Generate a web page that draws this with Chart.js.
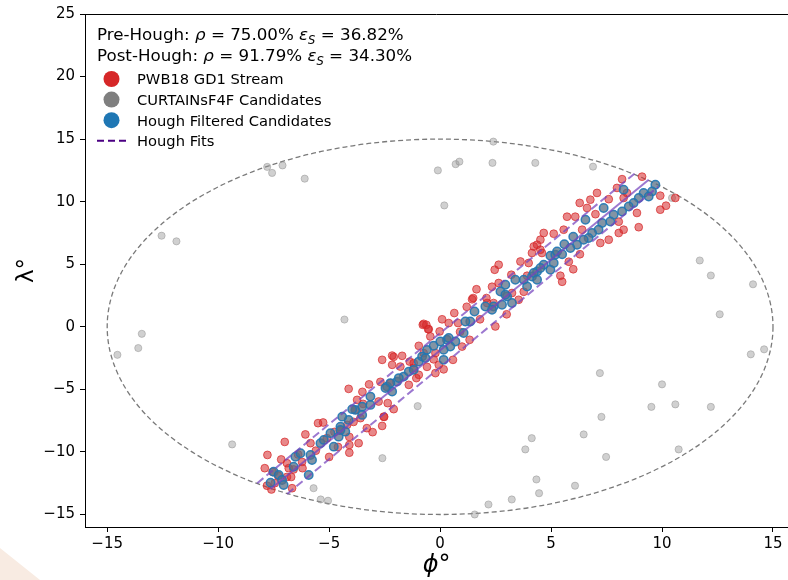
<!DOCTYPE html>
<html>
<head>
<meta charset="utf-8">
<script src="https://cdn.jsdelivr.net/npm/chart.js@4/dist/chart.umd.min.js"></script>
<style>
html, body { margin: 0; padding: 0; background: #fff; overflow: hidden; }
#wrap { position: relative; width: 788px; height: 580px; overflow: hidden; }
#corner { position: absolute; left: 0; top: 0; width: 788px; height: 580px; background: #f8ebe2;
  clip-path: polygon(0 548px, 40px 580px, 0 580px); }
canvas { position: absolute; left: 0; top: 0; }
</style>
</head>
<body>
<div id="wrap"><div id="corner"></div><canvas id="chart" width="794" height="580"></canvas></div>
<script>
const xTicks = [-15, -10, -5, 0, 5, 10, 15];
const yTicks = [-15, -10, -5, 0, 5, 10, 15, 20, 25];

const seriesNames = ["PWB18 GD1 Stream", "CURTAINsF4F Candidates", "Hough Filtered Candidates", "Hough Fits"];
const preHoughPurity = "75.00%", preHoughEff = "36.82%";
const postHoughPurity = "91.79%", postHoughEff = "34.30%";

// search region (degrees)
const regionRadius = 15;

// hough fit lines: two end points each
const fitUpperX = [-8.24, 8.76], fitUpperY = [-12.5, 12.24];
const fitMidX = [-7.64, 9.4], fitMidY = [-12.96, 11.76];
const fitLowerX = [-6.89, 9.83], fitLowerY = [-13.36, 11.2];

const candidates = [
  [-7.79, 12.78], [-7.57, 12.3], [-7.1, 12.9], [-6.1, 11.84], [-12.55, 7.28], [-11.88, 6.83],
  [-4.31, 0.58], [-13.44, -0.56], [-13.6, -1.7], [-14.54, -2.24],
  [-0.1, 12.5], [0.7, 13.0], [0.87, 13.2], [0.19, 9.7], [2.4, 14.8], [2.36, 13.1], [4.29, 13.1],
  [6.89, 12.8], [10.45, 10.3],
  [11.7, 5.3], [12.2, 4.1], [12.6, 1.0], [14.1, 3.4], [14.0, -2.2], [14.6, -1.8], [7.2, -3.7], [10.0, -4.6],
  [-9.37, -9.4], [-5.7, -12.9], [-5.38, -13.8], [-5.05, -13.9], [-2.6, -10.5], [-1.01, -6.34],
  [9.52, -6.4], [10.6, -6.2], [12.2, -6.4], [7.27, -7.2], [6.47, -8.6], [4.13, -8.9], [3.84, -9.8],
  [7.48, -10.4], [10.75, -9.8], [4.34, -12.2], [6.08, -12.7], [4.46, -13.3], [3.23, -13.8], [2.18, -14.2], [1.56, -15.0]
];

const gd1Stream = [
  [-7.78, -10.24], [-7.9, -11.3], [-7.8, -12.7], [-7.6, -13.0], [-6.67, -12.9], [-7.0, -9.2], [-6.07, -8.6], [-5.5, -7.7],
  [-5.27, -7.65], [-5.84, -9.3], [-4.09, -10.06], [-3.67, -9.3], [-3.04, -8.42], [-2.61, -7.92], [-2.09, -6.58], [-4.09, -9.44],
  [-6.6, -11.4], [-6.9, -12.0], [-6.2, -11.3], [-4.09, -8.8], [-6.82, -11.3], [-7.16, -10.6], [-6.22, -10.8], [-4.76, -8.4],
  [-4.19, -7.84], [-3.59, -7.3], [-3.47, -6.16], [-2.52, -7.2], [-2.36, -6.1], [-6.71, -12.0], [-7.3, -11.9], [-7.45, -12.5],
  [-6.4, -10.2], [-5.6, -9.9], [-5.1, -8.9], [-4.5, -8.3], [-5.0, -10.4], [-4.6, -9.6], [-3.3, -8.1], [-3.9, -7.6],
  [-6.9, -10.9], [-7.55, -11.6],
  [-0.78, 0.16], [-0.62, 0.16], [-0.51, -0.19], [0.09, 0.6], [-0.96, -1.52], [-0.44, -0.77], [-2.61, -2.64], [-2.16, -2.3],
  [-1.71, -2.32], [-2.16, -3.04], [-1.79, -3.18], [-1.37, -2.78], [-1.19, -3.3], [-0.74, -2.1], [-0.21, -2.1], [-0.06, -3.04],
  [-0.21, -3.7], [-4.12, -4.96], [-2.69, -4.4], [-2.24, -4.5], [-1.41, -4.64], [-0.96, -3.84], [-3.74, -5.84], [-2.77, -5.97],
  [-2.54, -7.18], [-3.82, -6.64],
  [2.64, 4.96], [2.46, 4.56], [1.64, 3.0], [2.34, 3.2], [2.64, 3.5], [0.64, 1.1], [-0.74, 0.24], [-0.54, -0.19], [0.39, 0.3],
  [0.81, 0.3], [1.49, 2.3], [2.12, 1.9], [2.49, 0.03], [-0.02, -0.37], [-2.09, -2.4], [-1.19, -2.9], [-0.59, -3.2],
  [-0.29, -2.6], [0.16, -3.4], [0.58, -2.64], [0.99, -1.58], [1.33, -1.04], [-1.07, -4.1], [3.92, 4.08], [3.77, 2.8], [3.24, 2.7],
  [4.37, 6.56], [4.52, 6.16], [4.14, 5.9], [3.99, 5.1], [3.62, 5.22], [3.21, 4.16], [1.44, 2.2], [2.09, 2.3], [2.41, 1.9],
  [3.54, 2.16], [5.42, 4.08],
  [8.2, 11.8], [9.1, 12.0], [7.6, 10.2], [7.07, 10.7], [6.77, 10.16], [7.97, 11.1], [8.42, 10.7], [9.92, 10.48], [9.92, 9.36],
  [10.18, 9.68], [10.6, 10.3], [6.62, 9.5], [6.09, 8.8], [5.72, 8.8], [6.4, 7.76], [5.57, 7.76], [5.12, 7.44], [4.67, 7.5],
  [4.52, 6.96], [4.22, 6.42], [4.59, 5.9], [7.22, 6.7], [7.6, 6.96], [8.05, 7.5], [8.27, 7.76], [8.87, 9.1], [6.29, 9.9],
  [7.0, 9.0], [8.05, 8.4], [8.95, 7.96], [8.27, 10.3],
  [1.8, 0.6], [1.2, 1.6], [0.9, -0.4], [5.8, 5.2], [6.0, 4.6], [5.5, 3.6], [6.3, 5.8], [3.0, 1.0], [-3.2, -4.6], [-3.5, -5.2]
];

const houghFiltered = [
  [-7.64, -12.46], [-7.5, -11.58], [-7.27, -11.84], [-7.12, -12.24], [-7.05, -12.64], [-6.6, -11.18], [-6.52, -10.38],
  [-6.29, -10.1], [-5.92, -11.84], [-5.84, -10.24], [-5.77, -10.64], [-5.39, -9.3], [-5.24, -9.04], [-4.94, -8.5],
  [-4.79, -9.58], [-4.57, -8.78], [-4.49, -7.98], [-4.27, -8.38], [-4.12, -7.44], [-3.82, -6.64], [-3.51, -7.04],
  [-3.14, -6.24], [-4.49, -8.24],
  [-4.41, -7.18], [-3.96, -6.58], [-3.51, -6.38], [-3.14, -5.58], [-2.39, -4.78], [-2.16, -5.18], [-1.94, -4.38],
  [-1.64, -3.98], [-1.41, -3.58], [-0.96, -2.78], [-0.81, -2.38], [-0.59, -1.84], [-0.29, -1.52], [0.16, -2.64], [0.31, -1.04],
  [2.94, 3.36], [2.72, 2.82], [3.02, 2.42], [3.24, 1.9], [2.41, 1.62], [1.55, 1.22], [1.36, 0.42], [1.06, -0.5], [0.69, -1.18],
  [0.39, -0.9], [0.46, -1.58], [0.01, -1.18], [0.16, -1.84], [-0.66, -2.5], [-1.19, -3.44], [-1.86, -4.1], [-2.24, -4.5],
  [-2.46, -4.9], [3.92, 3.22], [3.77, 3.76], [4.14, 4.02], [4.37, 4.42], [4.67, 4.96], [4.97, 4.56], [5.12, 5.1],
  [4.97, 5.68], [5.19, 5.76], [4.52, 4.7], [4.22, 4.3], [4.37, 3.76], [3.39, 3.76], [2.94, 2.56], [2.79, 1.76], [2.04, 1.62],
  [2.34, 1.36], [1.14, 0.42],
  [9.7, 11.36], [9.55, 10.82], [9.17, 10.7], [9.4, 10.42], [8.95, 10.3], [8.72, 9.9], [8.5, 9.62], [8.2, 9.22], [7.82, 8.96],
  [7.67, 8.42], [7.3, 8.3], [7.14, 7.76], [6.85, 7.5], [6.69, 7.1], [6.47, 6.96], [6.17, 6.56], [5.87, 6.3], [5.27, 6.02],
  [7.37, 9.5], [6.55, 8.56], [8.27, 10.96], [5.6, 6.6], [6.0, 7.2], [5.5, 5.8]
];

const FONT = "DejaVu Sans";
const toXY = arr => arr.map(p => ({ x: p[0], y: p[1] }));
const lineXY = (xs, ys) => xs.map((x, i) => ({ x: x, y: ys[i] }));
const minusSign = v => String(v).replace("-", "\u2212");

const fitColor = "rgba(118, 68, 190, 0.72)";

function drawRuns(ctx, runs, x, y) {
  runs.forEach(r => {
    ctx.font = r.font;
    ctx.fillText(r.t, x, y + (r.dy || 0));
    x += ctx.measureText(r.t).width;
  });
}

const overlay = {
  id: "overlay",
  beforeDatasetsDraw(chart) {
    const { ctx, chartArea, scales } = chart;
    const cx = scales.x.getPixelForValue(0), cy = scales.y.getPixelForValue(0);
    const rx = scales.x.getPixelForValue(regionRadius) - cx;
    const ry = cy - scales.y.getPixelForValue(regionRadius);
    ctx.save();
    ctx.beginPath();
    ctx.rect(chartArea.left, chartArea.top, chartArea.right - chartArea.left, chartArea.bottom - chartArea.top);
    ctx.clip();
    ctx.beginPath();
    ctx.ellipse(cx, cy, rx, ry, 0, 0, Math.PI * 2);
    ctx.strokeStyle = "#7a7a7a";
    ctx.lineWidth = 1.3;
    ctx.setLineDash([5, 3]);
    ctx.stroke();
    ctx.restore();
  },
  afterDraw(chart) {
    const { ctx, chartArea } = chart;
    ctx.save();
    // top spine
    ctx.beginPath();
    ctx.moveTo(chartArea.left, chartArea.top + 0.5);
    ctx.lineTo(chartArea.right, chartArea.top + 0.5);
    ctx.strokeStyle = "#000";
    ctx.lineWidth = 1;
    ctx.stroke();

    // stats + legend
    const L = chartArea.left + 12;
    const big = "16.7px '" + FONT + "'", bigIt = "italic 16.7px '" + FONT + "'";
    const sub = "italic 11.5px '" + FONT + "'";
    ctx.fillStyle = "#000";
    ctx.textBaseline = "alphabetic";
    const statRuns = (label, p, e) => [
      { t: label + ": ", font: big }, { t: "\u03c1", font: bigIt }, { t: " = " + p + " ", font: big },
      { t: "\u03b5", font: bigIt }, { t: "S", font: sub, dy: 3.5 }, { t: " = " + e, font: big }
    ];
    drawRuns(ctx, statRuns("Pre-Hough", preHoughPurity, preHoughEff), L, 40);
    drawRuns(ctx, statRuns("Post-Hough", postHoughPurity, postHoughEff), L, 61);

    const markers = ["#d62728", "#7f7f7f", "#1f77b4"];
    ctx.font = "14.7px '" + FONT + "'";
    seriesNames.forEach((name, i) => {
      const yc = 79 + i * 20.6;
      if (i < 3) {
        ctx.beginPath();
        ctx.arc(L + 14.5, yc, 8, 0, Math.PI * 2);
        ctx.fillStyle = markers[i];
        ctx.fill();
      } else {
        ctx.beginPath();
        ctx.moveTo(L, yc);
        ctx.lineTo(L + 29, yc);
        ctx.strokeStyle = "#4b0082";
        ctx.lineWidth = 2;
        ctx.setLineDash([7, 4]);
        ctx.stroke();
        ctx.setLineDash([]);
      }
      ctx.fillStyle = "#000";
      ctx.fillText(name, L + 40, yc + 5.3);
    });
    ctx.restore();
  }
};

const tickFont = { family: FONT, size: 15 };

new Chart(document.getElementById("chart"), {
  type: "scatter",
  data: {
    datasets: [
      { label: seriesNames[3], type: "line", data: lineXY(fitUpperX, fitUpperY), borderColor: fitColor,
        borderWidth: 2, borderDash: [8, 4], pointRadius: 0, fill: false, order: 0 },
      { label: seriesNames[3], type: "line", data: lineXY(fitMidX, fitMidY), borderColor: fitColor,
        borderWidth: 2, pointRadius: 0, fill: false, order: 0 },
      { label: seriesNames[3], type: "line", data: lineXY(fitLowerX, fitLowerY), borderColor: fitColor,
        borderWidth: 2, borderDash: [8, 4], pointRadius: 0, fill: false, order: 0 },
      { label: seriesNames[2], data: toXY(houghFiltered), backgroundColor: "rgba(90, 112, 134, 0.75)",
        borderColor: "rgba(31, 119, 180, 0.9)", borderWidth: 1.5, pointRadius: 4.2, order: 1 },
      { label: seriesNames[0], data: toXY(gd1Stream), backgroundColor: "rgba(214, 39, 40, 0.55)",
        borderColor: "rgba(214, 39, 40, 0.7)", borderWidth: 1, pointRadius: 3.9, order: 2 },
      { label: seriesNames[1], data: toXY(candidates), backgroundColor: "rgba(150, 150, 150, 0.45)",
        borderColor: "rgba(140, 140, 140, 0.45)", borderWidth: 1, pointRadius: 3.6, order: 3 }
    ]
  },
  options: {
    responsive: false,
    animation: false,
    layout: { padding: { top: 14, right: 0, bottom: 0, left: 0 } },
    plugins: { legend: { display: false }, tooltip: { enabled: false } },
    scales: {
      x: {
        type: "linear", min: -16, max: 15.69,
        afterBuildTicks: s => { s.ticks = xTicks.map(v => ({ value: v })); },
        afterFit: s => { s.height = 53; },
        ticks: { font: tickFont, color: "#000", padding: 3, autoSkip: false, maxRotation: 0, callback: minusSign },
        grid: { drawOnChartArea: false, drawTicks: true, tickLength: 5, color: "#000" },
        border: { display: true, color: "#000", width: 1 },
        title: { display: true, text: "\u03d5\u00b0", color: "#000",
          font: { family: FONT, size: 24, style: "italic" }, padding: { top: 0, bottom: 0 } }
      },
      y: {
        type: "linear", min: -16, max: 25,
        afterBuildTicks: s => { s.ticks = yTicks.map(v => ({ value: v })); },
        afterFit: s => { s.width = 85; },
        ticks: { font: tickFont, color: "#000", padding: 5, autoSkip: false, callback: minusSign },
        grid: { drawOnChartArea: false, drawTicks: true, tickLength: 5, color: "#000" },
        border: { display: true, color: "#000", width: 1 },
        title: { display: true, text: "\u03bb\u00b0", color: "#000",
          font: { family: FONT, size: 23 }, padding: { top: 13, bottom: 0 } }
      }
    }
  },
  plugins: [overlay]
});
</script>
</body>
</html>
